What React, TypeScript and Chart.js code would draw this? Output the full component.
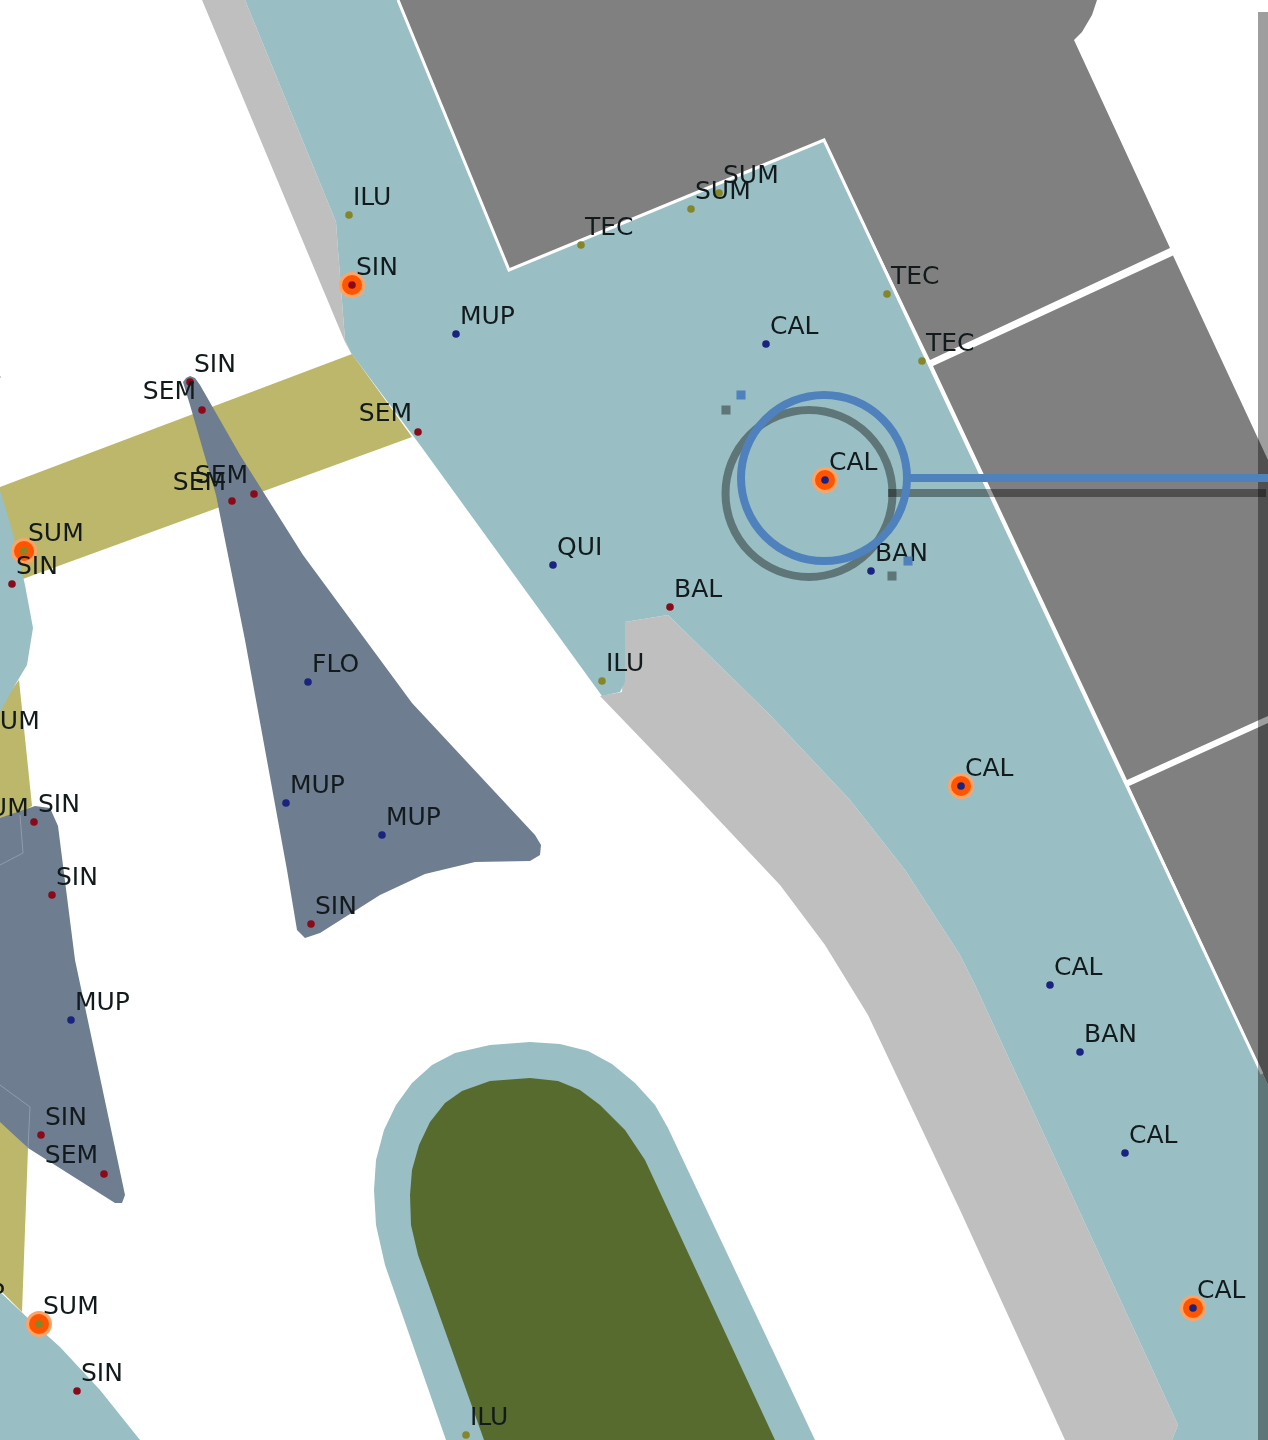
import React, { useEffect, useRef } from "react";
import { Chart, registerables } from "chart.js";

Chart.register(...registerables);

type P = [number, number];
type Site = [string, number, number];

// Map extent
const xExtent: P = [0, 1268];
const yExtent: P = [1440, 0];

// Areas
const lightGrayNorth: P[] = [[202, 0], [245, 0], [336, 222], [338, 250], [345, 340], [351, 353], [345, 342]];
const lightGraySouth: P[] = [[600, 696], [622, 692], [625, 622], [668, 615], [770, 715], [850, 800], [905, 870], [960, 955], [975, 985], [1178, 1425], [1172, 1440], [1065, 1440], [960, 1210], [868, 1015], [825, 945], [780, 885], [700, 800]];
const darkGrayA: P[] = [[398, 0], [1097, 0], [1092, 15], [1082, 32], [1074, 40], [1170, 248], [930, 360], [824, 140], [509, 270]];
const darkGrayB: P[] = [[933, 366], [1173, 255.5], [1268, 460], [1268, 716], [1127, 780]];
const darkGrayC: P[] = [[1129, 786], [1268, 723], [1268, 1085]];
const yellowBandMain: P[] = [[0, 487], [352, 354], [412, 437], [20, 580], [0, 587]];
const yellowBandWest: P[] = [[0, 705], [19, 680], [32, 806], [0, 825]];
const yellowBandSouth: P[] = [[0, 1120], [28, 1148], [22, 1312], [0, 1290]];
const tealMain: P[] = [[245, 0], [398, 0], [509, 270], [824, 140], [1268, 1085], [1268, 1440], [1172, 1440], [1178, 1425], [975, 985], [960, 955], [905, 870], [850, 800], [770, 715], [668, 615], [625, 622], [625, 682], [620, 692], [602, 696], [420, 445], [351, 353], [345, 340], [338, 250], [336, 222]];
const tealWest: P[] = [[0, 490], [12, 530], [25, 585], [33, 628], [27, 665], [12, 690], [0, 712]];
const tealSouthWest: P[] = [[0, 1292], [30, 1320], [60, 1347], [100, 1390], [140, 1440], [0, 1440]];
const tealPool: P[] = [[374, 1190], [376, 1160], [384, 1130], [396, 1105], [412, 1083], [432, 1065], [455, 1053], [490, 1045], [530, 1042], [560, 1044], [588, 1051], [612, 1064], [635, 1083], [655, 1105], [668, 1128], [815, 1440], [446, 1440], [385, 1265], [376, 1225]];
const greenPool: P[] = [[410, 1195], [412, 1170], [419, 1145], [430, 1122], [445, 1103], [462, 1091], [490, 1081], [530, 1078], [558, 1081], [580, 1090], [600, 1105], [625, 1130], [645, 1160], [775, 1440], [484, 1440], [418, 1255], [411, 1225]];
const slateTriangle: P[] = [[183, 382], [186, 378], [190, 376], [195, 378], [200, 385], [240, 455], [303, 555], [412, 703], [535, 835], [541, 845], [540, 855], [530, 861], [475, 862], [425, 874], [380, 895], [320, 933], [305, 938], [297, 930], [287, 870], [245, 640], [216, 495], [190, 405]];
const slateWest: P[] = [[0, 818], [35, 806], [50, 808], [58, 826], [75, 960], [125, 1195], [122, 1203], [115, 1203], [28, 1148], [0, 1122]];
const slateSeamNorth: P[] = [[20, 815], [23, 853], [0, 865]];
const slateSeamSouth: P[] = [[0, 1085], [30, 1107], [28, 1148]];
const roadEdge: P[] = [[398, 0], [509, 270], [824, 140], [1262, 1074]];
const mapFrame: P[] = [[1258, 12], [1268, 12], [1268, 1440], [1258, 1440]];

// Sites
const redSites: Site[] = [
  ["SIN", 190, 382], ["SEM", 202, 410], ["SEM", 232, 501], ["SEM", 254, 494], ["SEM", 418, 432],
  ["SIN", 12, 584], ["SIN", 34, 822], ["SIN", 52, 895], ["SIN", 311, 924], ["SIN", 41, 1135],
  ["SEM", 104, 1174], ["SIN", 77, 1391], ["BAL", 670, 607], ["SIN", 352, 285], ["E", -18, 388],
];
const navySites: Site[] = [
  ["MUP", 456, 334], ["CAL", 766, 344], ["CAL", 825, 480], ["BAN", 871, 571], ["QUI", 553, 565],
  ["FLO", 308, 682], ["MUP", 286, 803], ["MUP", 382, 835], ["MUP", 71, 1020], ["CAL", 961, 786],
  ["CAL", 1050, 985], ["BAN", 1080, 1052], ["CAL", 1125, 1153], ["CAL", 1193, 1308], ["MUP", -54, 1311],
];
const oliveSites: Site[] = [
  ["ILU", 349, 215], ["TEC", 581, 245], ["SUM", 691, 209], ["SUM", 719, 193], ["TEC", 887, 294],
  ["TEC", 922, 361], ["ILU", 602, 681], ["ILU", 466, 1435], ["SUM", 24, 551], ["SUM", 39, 1324],
  ["SUM", -20, 739], ["SUM", -31, 826],
];
const highlighted: P[] = [[352, 285], [24, 551], [825, 480], [961, 786], [1193, 1308], [39, 1324]];

// Callouts
const blueRing: P[] = [[824, 478]];
const grayRing: P[] = [[809, 493.5]];
const blueLeader: P[] = [[909, 478], [1268, 478]];
const grayLeader: P[] = [[888, 493], [1266, 493]];
const blueHandles: P[] = [[741, 395], [908, 561]];
const grayHandles: P[] = [[726, 410], [892, 576]];

const SHADOW = "rgba(0,0,0,0.38)";
const xy = (pts: P[]) => pts.map(([x, y]) => ({ x, y }));
const siteXY = (s: Site[]) => s.map(([code, x, y]) => ({ x, y, code }));

const area = (label: string, pts: P[], color: string) => ({
  label,
  data: xy([...pts, pts[0]]),
  showLine: true,
  fill: "shape",
  backgroundColor: color,
  borderColor: "rgba(0,0,0,0)",
  borderWidth: 0,
  pointRadius: 0,
  tension: 0,
});
const line = (label: string, pts: P[], color: string, width: number) => ({
  label,
  data: xy(pts),
  showLine: true,
  fill: false,
  borderColor: color,
  borderWidth: width,
  pointRadius: 0,
  tension: 0,
});
const dots = (label: string, sites: Site[], color: string) => ({
  label,
  data: siteXY(sites),
  showLine: false,
  backgroundColor: color,
  borderWidth: 0,
  pointRadius: 3.8,
});
const marks = (label: string, pts: P[], style: string, radius: number, fill: string, stroke: string, width: number) => ({
  label,
  data: xy(pts),
  showLine: false,
  pointStyle: style,
  pointRadius: radius,
  backgroundColor: fill,
  borderColor: stroke,
  borderWidth: width,
});

const siteLabels = {
  id: "siteLabels",
  afterDatasetDraw(chart: any, args: any) {
    const ds = chart.data.datasets[args.index];
    if (ds.label !== "Site labels") return;
    const { ctx, scales } = chart;
    ctx.save();
    ctx.font = '25px "DejaVu Sans"';
    ctx.fillStyle = "#121a1c";
    ctx.textBaseline = "alphabetic";
    for (const p of ds.data) {
      const px = scales.x.getPixelForValue(p.x);
      const py = scales.y.getPixelForValue(p.y);
      if (p.code === "SEM") {
        ctx.textAlign = "right";
        ctx.fillText(p.code, px - 6, py - 11);
      } else {
        ctx.textAlign = "left";
        ctx.fillText(p.code, px + 4, py - 10);
      }
    }
    ctx.restore();
  },
};

export default function App() {
  const ref = useRef<HTMLCanvasElement>(null);
  useEffect(() => {
    const layers: any[] = [
      area("Light gray north", lightGrayNorth, "#bfbfbf"),
      area("Light gray south", lightGraySouth, "#bfbfbf"),
      area("Dark gray A", darkGrayA, "#808080"),
      area("Dark gray B", darkGrayB, "#808080"),
      area("Dark gray C", darkGrayC, "#808080"),
      area("Yellow main", yellowBandMain, "#bdb76b"),
      area("Yellow west", yellowBandWest, "#bdb76b"),
      area("Yellow south", yellowBandSouth, "#bdb76b"),
      area("Teal main", tealMain, "#99bfc4"),
      area("Teal west", tealWest, "#99bfc4"),
      area("Teal south west", tealSouthWest, "#99bfc4"),
      area("Teal pool", tealPool, "#99bfc4"),
      area("Green pool", greenPool, "#586b2f"),
      area("Slate triangle", slateTriangle, "#6e7d90"),
      area("Slate west", slateWest, "#6e7d90"),
      line("Slate seam north", slateSeamNorth, "#8f9cac", 1),
      line("Slate seam south", slateSeamSouth, "#8f9cac", 1),
      line("Road edge", roadEdge, "#ffffff", 3),
      marks("Highlights", highlighted, "circle", 11.5, "#ff5500", "#ffa366", 3),
      dots("Red sites", redSites, "#8b0a1a"),
      dots("Navy sites", navySites, "#1a237e"),
      dots("Olive sites", oliveSites, "#85852a"),
      { label: "Site labels", data: siteXY([...redSites, ...navySites, ...oliveSites]), showLine: false, pointRadius: 0 },
      area("Map frame", mapFrame, SHADOW),
      marks("Gray ring", grayRing, "circle", 83.5, "rgba(0,0,0,0)", SHADOW, 8),
      line("Gray leader", grayLeader, SHADOW, 8),
      marks("Gray handles", grayHandles, "rect", 6.4, SHADOW, SHADOW, 0),
      marks("Blue ring", blueRing, "circle", 83, "rgba(0,0,0,0)", "#4f81bd", 8),
      line("Blue leader", blueLeader, "#4f81bd", 8),
      marks("Blue handles", blueHandles, "rect", 6.4, "#4f81bd", "#4f81bd", 0),
    ];
    layers.forEach((d, i) => {
      d.order = layers.length - i;
      d.clip = false;
    });
    const chart = new Chart(ref.current!, {
      type: "scatter",
      data: { datasets: layers },
      plugins: [siteLabels],
      options: {
        responsive: false,
        animation: false,
        devicePixelRatio: 1,
        layout: { padding: 0, autoPadding: false },
        events: [],
        plugins: { legend: { display: false }, tooltip: { enabled: false }, title: { display: false } },
        scales: {
          x: { type: "linear", display: false, min: xExtent[0], max: xExtent[1] },
          y: { type: "linear", display: false, min: yExtent[1], max: yExtent[0], reverse: true },
        },
      },
    } as any);
    return () => chart.destroy();
  }, []);
  return (
    <div style={{ position: "absolute", left: 0, top: 0, width: 1268, height: 1440, overflow: "hidden", background: "#fff" }}>
      <canvas ref={ref} width={1268} height={1440} style={{ display: "block" }} />
    </div>
  );
}
